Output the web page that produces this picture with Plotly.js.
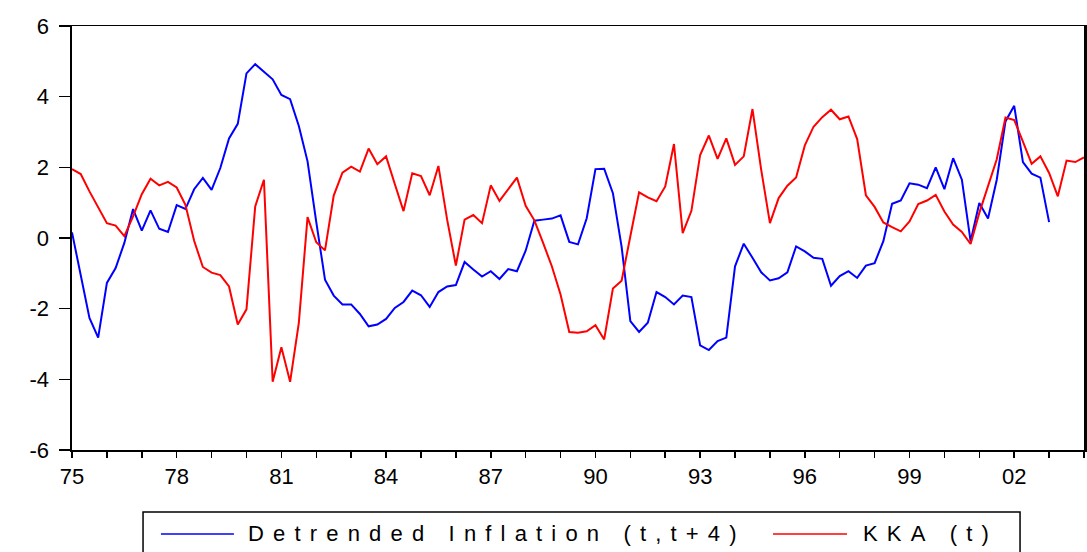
<!DOCTYPE html>
<html>
<head>
<meta charset="utf-8">
<script src="https://cdn.plot.ly/plotly-3.0.1.min.js"></script>
<style>html,body{margin:0;padding:0;background:#fff;}#chart{width:1087px;height:552px;}</style>
</head>
<body>
<div id="chart"></div>
<script>
// Quarterly data, starting 1975Q1
var startYear = 1975;
var seriesNames = ["Detrended Inflation (t,t+4)", "KKA (t)"];

var detrendedInflation = [
  0.16, -1.05, -2.26, -2.82, -1.27, -0.85, -0.14, 0.82,
  0.21, 0.78, 0.26, 0.17, 0.93, 0.82, 1.38, 1.70,
  1.36, 1.98, 2.82, 3.23, 4.66, 4.92, 4.71, 4.49,
  4.05, 3.93, 3.17, 2.17, 0.45, -1.18, -1.63, -1.88,
  -1.88, -2.15, -2.50, -2.45, -2.29, -1.98, -1.81, -1.49,
  -1.62, -1.95, -1.53, -1.37, -1.33, -0.68, -0.89, -1.09,
  -0.94, -1.16, -0.88, -0.94, -0.36, 0.49, 0.52, 0.55,
  0.64, -0.11, -0.18, 0.56, 1.95, 1.96, 1.27, -0.25,
  -2.35, -2.66, -2.40, -1.53, -1.67, -1.88, -1.63, -1.67,
  -3.04, -3.17, -2.92, -2.82, -0.80, -0.16, -0.56, -0.97,
  -1.20, -1.14, -0.97, -0.24, -0.38, -0.56, -0.59, -1.35,
  -1.08, -0.94, -1.13, -0.78, -0.71, -0.09, 0.97, 1.06,
  1.55, 1.51, 1.41, 2.00, 1.38, 2.26, 1.65, -0.09,
  0.99, 0.55, 1.65, 3.30, 3.74, 2.15, 1.82, 1.71,
  0.45
];

var kka = [
  1.95, 1.81, 1.32, 0.89, 0.42, 0.35, 0.05, 0.61,
  1.24, 1.68, 1.49, 1.59, 1.43, 0.94, -0.08, -0.82,
  -0.98, -1.05, -1.37, -2.45, -2.02, 0.89, 1.65, -4.07,
  -3.09, -4.07, -2.40, 0.59, -0.12, -0.35, 1.20, 1.85,
  2.02, 1.88, 2.53, 2.09, 2.31, 1.53, 0.76, 1.83,
  1.75, 1.21, 2.04, 0.52, -0.78, 0.52, 0.65, 0.42,
  1.49, 1.05, 1.37, 1.71, 0.91, 0.50, -0.14, -0.80,
  -1.60, -2.66, -2.68, -2.64, -2.47, -2.87, -1.43, -1.21,
  0.05, 1.29, 1.15, 1.04, 1.46, 2.66, 0.14, 0.77,
  2.35, 2.90, 2.24, 2.82, 2.07, 2.31, 3.65, 1.93,
  0.42, 1.13, 1.48, 1.71, 2.62, 3.15, 3.42, 3.63,
  3.36, 3.44, 2.80, 1.21, 0.88, 0.44, 0.31, 0.19,
  0.47, 0.96, 1.06, 1.22, 0.75, 0.38, 0.17, -0.17,
  0.71, 1.48, 2.23, 3.41, 3.34, 2.73, 2.10, 2.31,
  1.84, 1.18, 2.19, 2.15, 2.28
];

var xTickYears = [1975,1976,1977,1978,1979,1980,1981,1982,1983,1984,1985,1986,1987,1988,1989,
                  1990,1991,1992,1993,1994,1995,1996,1997,1998,1999,2000,2001,2002,2003,2004];
var xTickLabels = ["75","","","78","","","81","","","84","","","87","","",
                   "90","","","93","","","96","","","99","","","02","",""];
var yTickValues = [6, 4, 2, 0, -2, -4, -6];
var yTickLabels = ["6", "4", "2", "0", "-2", "-4", "-6"];

function quarterAxis(n) {
  var xs = [];
  for (var i = 0; i < n; i++) xs.push(startYear + i / 4);
  return xs;
}

var FONT = "Liberation Sans, Arial, sans-serif";
var traces = [
  { x: quarterAxis(detrendedInflation.length), y: detrendedInflation, type: "scatter", mode: "lines",
    name: seriesNames[0], line: { color: "#0000FF", width: 2 }, showlegend: false },
  { x: quarterAxis(kka.length), y: kka, type: "scatter", mode: "lines",
    name: seriesNames[1], line: { color: "#FF0000", width: 2 }, showlegend: false }
];

function spaced(s) { return s.split("").join("\u2004\u200A"); }

// custom legend (box + line samples + labels) in paper coordinates
var shapes = [
  { type: "rect", xref: "paper", yref: "paper", x0: 0.0702, x1: 0.9368, y0: -0.1462, y1: -0.27,
    line: { color: "#000", width: 1.5 }, fillcolor: "rgba(0,0,0,0)" },
  { type: "line", xref: "paper", yref: "paper", x0: 0.0879, x1: 0.160, y0: -0.198, y1: -0.198,
    line: { color: "#0000FF", width: 1.5 } },
  { type: "line", xref: "paper", yref: "paper", x0: 0.6927, x1: 0.7658, y0: -0.198, y1: -0.198,
    line: { color: "#FF0000", width: 1.5 } }
];
var annotations = [
  { xref: "paper", yref: "paper", x: 0.172, y: -0.198, xanchor: "left", yanchor: "middle",
    text: spaced(seriesNames[0]), showarrow: false, font: { family: FONT, size: 22, color: "#000" } },
  { xref: "paper", yref: "paper", x: 0.7796, y: -0.198, xanchor: "left", yanchor: "middle",
    text: spaced(seriesNames[1]), showarrow: false, font: { family: FONT, size: 22, color: "#000" } }
];

var layout = {
  width: 1087, height: 552,
  margin: { l: 72, r: 3, t: 26, b: 102, pad: 0 },
  paper_bgcolor: "#fff", plot_bgcolor: "#fff",
  font: { family: FONT, size: 22, color: "#000" },
  showlegend: false,
  xaxis: {
    range: [1975, 2004], tickmode: "array", tickvals: xTickYears, ticktext: xTickLabels,
    ticks: "outside", ticklen: 6, tickwidth: 1.5, tickcolor: "#000",
    showline: true, linecolor: "#000", linewidth: 1.5, mirror: true,
    showgrid: false, zeroline: false, tickfont: { family: FONT, size: 22, color: "#000" }
  },
  yaxis: {
    range: [-6, 6], tickmode: "array", tickvals: yTickValues, ticktext: yTickLabels,
    ticks: "outside", ticklen: 11, tickwidth: 1.5, tickcolor: "#000", ticklabelstandoff: 5,
    showline: true, linecolor: "#000", linewidth: 2.5, mirror: true,
    showgrid: false, zeroline: false, tickfont: { family: FONT, size: 22, color: "#000" }
  },
  shapes: shapes,
  annotations: annotations
};

Plotly.newPlot("chart", traces, layout, { staticPlot: true, displayModeBar: false });
</script>
</body>
</html>
